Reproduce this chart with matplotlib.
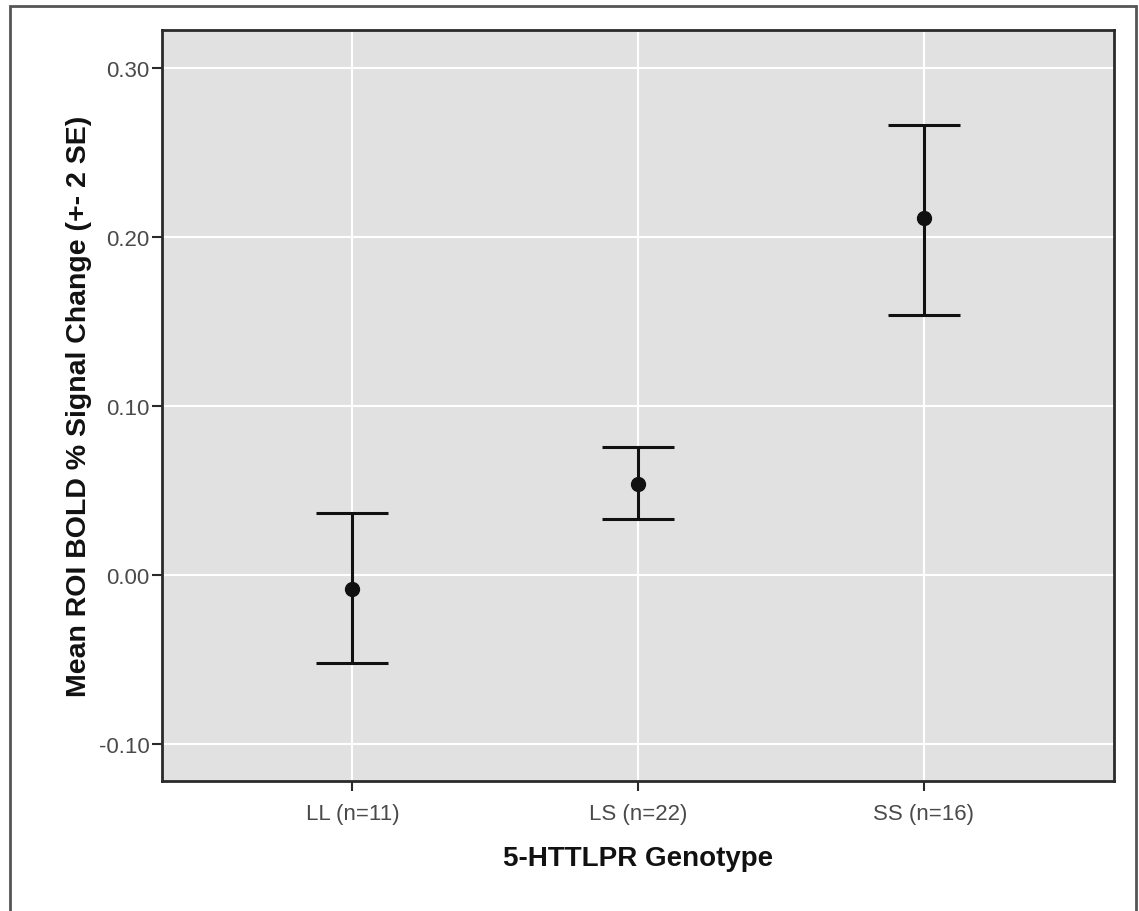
import matplotlib.pyplot as plt
from matplotlib.patches import Rectangle

groups = ["LL (n=11)", "LS (n=22)", "SS (n=16)"]
means = [-0.008, 0.054, 0.211]
upper = [0.037, 0.076, 0.266]
lower = [-0.052, 0.033, 0.154]
yticks = [-0.10, 0.00, 0.10, 0.20, 0.30]

plt.rcParams["font.family"] = ["Liberation Sans", "DejaVu Sans"]

fig = plt.figure(figsize=(11.39, 9.12), dpi=100)
ax = fig.add_axes([0.1422, 0.1425, 0.836, 0.8235])

x = list(range(1, len(groups) + 1))
err_lo = [m - l for m, l in zip(means, lower)]
err_hi = [u - m for m, u in zip(means, upper)]
ax.errorbar(x, means, yerr=[err_lo, err_hi], fmt="o", color="#111111",
            markersize=10, elinewidth=2.2, capsize=26, capthick=2.2, zorder=3)

ax.set_facecolor("#e1e1e1")
ax.set_xlim(1 / 3, 11 / 3)
ax.set_ylim(-0.1219, 0.3225)
ax.set_xticks(x)
ax.set_xticklabels(groups)
ax.set_yticks(yticks)
ax.set_yticklabels([f"{v:.2f}" for v in yticks])
ax.grid(True, color="white", linewidth=1.5, zorder=0)
ax.set_axisbelow(True)
for s in ax.spines.values():
    s.set_color("#2a2a2a")
    s.set_linewidth(2)
ax.tick_params(axis="both", direction="out", length=7, width=1.5,
               color="#2a2a2a", labelsize=16, labelcolor="#4a4a4a", pad=2)
ax.tick_params(axis="x", pad=9)

ax.set_xlabel("5-HTTLPR Genotype", fontsize=20, fontweight="bold", labelpad=15, color="#111111")
ax.set_ylabel("Mean ROI BOLD % Signal Change (+- 2 SE)", fontsize=20.5, fontweight="bold",
              labelpad=5, color="#111111")

fig.patches.append(Rectangle((0.009, -0.05), 0.988, 1.042, transform=fig.transFigure,
                             fill=False, edgecolor="#555555", linewidth=2))

fig.savefig("out.png", dpi=100)
